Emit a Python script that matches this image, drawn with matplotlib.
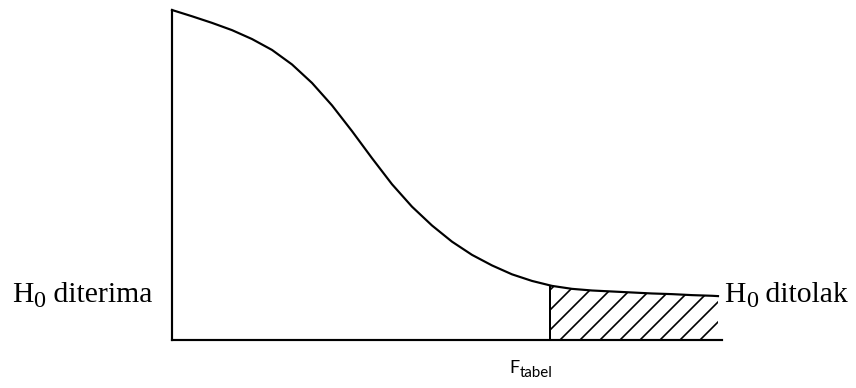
import numpy as np
import matplotlib
matplotlib.use("Agg")
import matplotlib.pyplot as plt

# Curve (F value, relative density)
f_vals = np.array([0.0, 0.2, 0.4, 0.6, 0.8, 1.0, 1.2, 1.4, 1.6, 1.8,
                   2.0, 2.2, 2.4, 2.6, 2.8, 3.0, 3.2, 3.4, 3.6, 3.8,
                   4.0, 4.2, 4.4, 4.6, 4.8, 5.0, 5.2, 5.4, 5.46])
density = np.array([1.000, 0.981, 0.961, 0.939, 0.912, 0.879, 0.835, 0.779, 0.711, 0.633,
                    0.551, 0.472, 0.404, 0.347, 0.298, 0.258, 0.226, 0.199, 0.179, 0.164,
                    0.155, 0.150, 0.147, 0.144, 0.141, 0.139, 0.136, 0.134, 0.133])
f_tabel = 3.78
f_tabel_top = 0.16

label_left = ("H", "0", " diterima")
label_right = ("H", "0", " ditolak")
label_crit = ("F", "tabel")

DPI = 120
plt.rcParams['hatch.linewidth'] = 1.0

fig = plt.figure(figsize=(856 / DPI, 388 / DPI), dpi=DPI)
ax = fig.add_axes([172 / 856, 48 / 388, 550 / 856, 330 / 388])
ax.set_xlim(0, 5.5)
ax.set_ylim(0, 1)

for s in ['top', 'right']:
    ax.spines[s].set_visible(False)
for s in ['left', 'bottom']:
    ax.spines[s].set_linewidth(1.3)
ax.set_xticks([])
ax.set_yticks([])

# curve
ax.plot(f_vals, density, color='black', lw=1.3, clip_on=False,
        solid_joinstyle='round')

# critical line + rejection region
ax.plot([f_tabel, f_tabel], [0, f_tabel_top], color='black', lw=1.2)
mask = f_vals > f_tabel
x_fill = np.concatenate([[f_tabel], f_vals[mask]])
y_fill = np.concatenate([[np.interp(f_tabel, f_vals, density)], density[mask]])
ax.fill_between(x_fill, 0, y_fill, facecolor='none', edgecolor='black',
                hatch='//', linewidth=0)


def sub_label(x, y, parts, family, big, small, drop):
    t1 = ax.text(x, y, parts[0], fontsize=big, family=family, va='baseline',
                 ha='left', clip_on=False)
    t2 = ax.annotate(parts[1], xy=(1, 0), xycoords=t1, xytext=(0.3, -drop),
                     textcoords='offset points', fontsize=small, family=family,
                     va='bottom', ha='left', annotation_clip=False)
    if len(parts) > 2:
        ax.annotate(parts[2], xy=(1, 0), xycoords=(t2, t1), fontsize=big,
                    family=family, va='bottom', ha='left', annotation_clip=False)


serif = 'Liberation Serif'
sub_label(-1.603, 0.114, label_left, serif, 17.8, 14.5, 2.1)
sub_label(5.52, 0.114, label_right, serif, 17.8, 14.5, 2.1)
sub_label(3.37, -0.10, label_crit, 'Lato', 10.8, 9.0, 2.5)

fig.savefig("out.png", dpi=DPI)
